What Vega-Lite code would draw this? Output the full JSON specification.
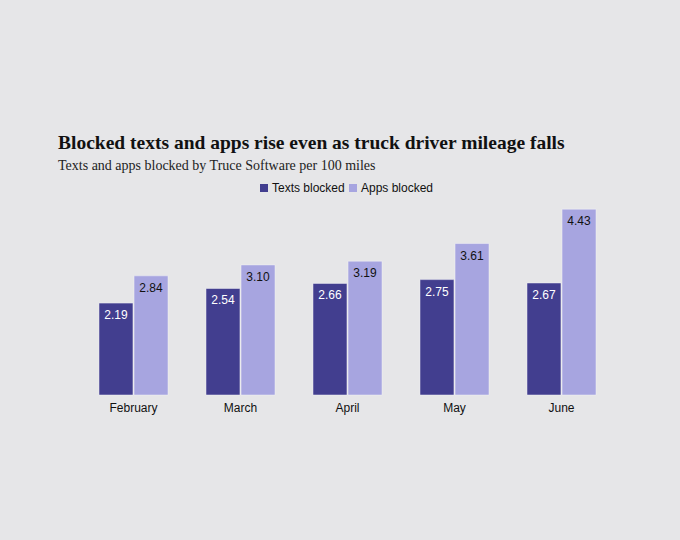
{
  "$schema": "https://vega.github.io/schema/vega-lite/v6.json",
  "width": 535,
  "height": 193,
  "autosize": {"type": "none"},
  "padding": {"left": 80, "top": 202, "right": 65, "bottom": 145},
  "background": "#e6e6e8",
  "title": {
    "text": "Blocked texts and apps rise even as truck driver mileage falls",
    "subtitle": "Texts and apps blocked by Truce Software per 100 miles",
    "anchor": "start",
    "frame": "bounds",
    "dx": -22,
    "offset": 8,
    "font": "Liberation Serif",
    "fontSize": 19.5,
    "fontWeight": "bold",
    "color": "#111111",
    "subtitleFont": "Liberation Serif",
    "subtitleFontSize": 14,
    "subtitleColor": "#222222",
    "subtitlePadding": 6
  },
  "data": {
    "values": [
      {"month": "February", "series": "Texts blocked", "value": 2.19},
      {"month": "February", "series": "Apps blocked", "value": 2.84},
      {"month": "March", "series": "Texts blocked", "value": 2.54},
      {"month": "March", "series": "Apps blocked", "value": 3.10},
      {"month": "April", "series": "Texts blocked", "value": 2.66},
      {"month": "April", "series": "Apps blocked", "value": 3.19},
      {"month": "May", "series": "Texts blocked", "value": 2.75},
      {"month": "May", "series": "Apps blocked", "value": 3.61},
      {"month": "June", "series": "Texts blocked", "value": 2.67},
      {"month": "June", "series": "Apps blocked", "value": 4.43}
    ]
  },
  "encoding": {
    "x": {
      "field": "month",
      "type": "nominal",
      "sort": ["February", "March", "April", "May", "June"],
      "scale": {"paddingInner": 0.355, "paddingOuter": 0.1775},
      "axis": {
        "title": null,
        "labelAngle": 0,
        "ticks": false,
        "domain": false,
        "labelPadding": 7,
        "labelFont": "Liberation Sans",
        "labelFontSize": 12,
        "labelColor": "#111111"
      }
    },
    "xOffset": {
      "field": "series",
      "type": "nominal",
      "sort": ["Texts blocked", "Apps blocked"],
      "scale": {"paddingInner": 0.03, "paddingOuter": 0}
    },
    "y": {
      "field": "value",
      "type": "quantitative",
      "scale": {"domain": [0, 4.6], "nice": false},
      "axis": null
    }
  },
  "layer": [
    {
      "mark": {"type": "bar", "stroke": "#f2f2f6", "strokeWidth": 0.5},
      "encoding": {
        "color": {
          "field": "series",
          "type": "nominal",
          "sort": ["Texts blocked", "Apps blocked"],
          "scale": {"domain": ["Texts blocked", "Apps blocked"], "range": ["#423e8f", "#a7a5e0"]},
          "legend": {
            "title": null,
            "orient": "none",
            "direction": "horizontal",
            "legendX": 178,
            "legendY": -20,
            "symbolType": "square",
            "symbolSize": 64,
            "symbolStrokeWidth": 0,
            "labelFont": "Liberation Sans",
            "labelFontSize": 12,
            "labelColor": "#111111",
            "labelOffset": 2,
            "columnPadding": 2
          }
        }
      }
    },
    {
      "mark": {"type": "text", "baseline": "middle", "dy": 12, "font": "Liberation Sans", "fontSize": 12},
      "encoding": {
        "text": {"field": "value", "type": "quantitative", "format": ".2f"},
        "color": {
          "field": "series",
          "type": "nominal",
          "scale": {"domain": ["Texts blocked", "Apps blocked"], "range": ["#ffffff", "#111111"]},
          "legend": null
        }
      }
    }
  ],
  "resolve": {"scale": {"color": "independent"}},
  "config": {"view": {"stroke": null}}
}
